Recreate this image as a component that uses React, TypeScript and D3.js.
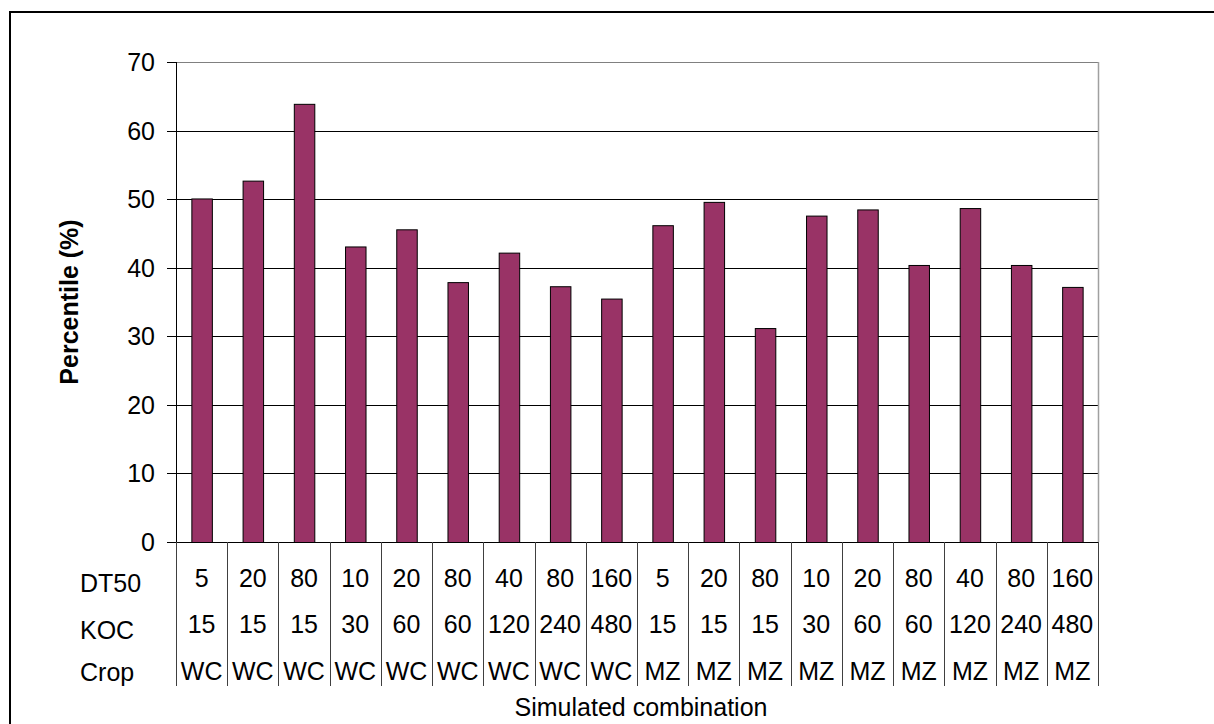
import React from "react";
import * as d3 from "d3";

const categories = ["1","2","3","4","5","6","7","8","9","10","11","12","13","14","15","16","17","18"];
const percentile = [50.1, 52.7, 63.9, 43.1, 45.6, 37.9, 42.2, 37.3, 35.5, 46.2, 49.6, 31.2, 47.6, 48.5, 40.4, 48.7, 40.4, 37.2];
const dt50 = ["5","20","80","10","20","80","40","80","160","5","20","80","10","20","80","40","80","160"];
const koc = ["15","15","15","30","60","60","120","240","480","15","15","15","30","60","60","120","240","480"];
const crop = ["WC","WC","WC","WC","WC","WC","WC","WC","WC","MZ","MZ","MZ","MZ","MZ","MZ","MZ","MZ","MZ"];
const yTicks = [0, 10, 20, 30, 40, 50, 60, 70];
const rowLabels = ["DT50", "KOC", "Crop"];
const yTitle = "Percentile (%)";
const xTitle = "Simulated combination";

const W = 1214, H = 724;
const left = 176, right = 1098, top = 62, bottom = 542;
const FONT = "Arial, 'Liberation Sans', sans-serif";
const FS = 25;

export default function App() {
  const x = d3.scaleBand<string>().domain(categories).range([left, right]).paddingInner(0.6).paddingOuter(0.3);
  const y = d3.scaleLinear().domain([0, 70]).range([bottom, top]);
  const step = x.step();
  const cellLeft = (i: number) => left + i * step;
  const rows = [dt50, koc, crop];
  const rowBase = [587, 633, 680];
  const labelBase = [592, 639, 681];

  return (
    <svg width={W} height={H} style={{ position: "absolute", left: 0, top: 0, background: "#fff" }} fontFamily={FONT}>
      <rect x={10} y={12} width={1230} height={740} fill="#fff" stroke="#000" strokeWidth={2} />
      {/* gridlines */}
      {yTicks.filter(t => t > 0).map(t => (
        <line key={"g" + t} x1={left} x2={right} y1={Math.round(y(t)) + 0.5} y2={Math.round(y(t)) + 0.5} stroke={t === 70 ? "#808080" : "#000"} strokeWidth={1} />
      ))}
      {/* plot right border */}
      <line x1={right + 0.5} x2={right + 0.5} y1={top} y2={bottom} stroke="#a0a0a0" strokeWidth={1.5} />
      {/* bars */}
      {categories.map((c, i) => (
        <rect key={"b" + c} x={x(c)! + 0.5} y={y(percentile[i]) + 0.5} width={x.bandwidth()} height={y(0) - y(percentile[i])} fill="#993366" stroke="#000" strokeWidth={1} />
      ))}
      {/* y axis */}
      <line x1={left + 0.5} x2={left + 0.5} y1={top} y2={bottom} stroke="#000" strokeWidth={1} />
      {yTicks.map(t => (
        <g key={"t" + t}>
          <line x1={167} x2={left} y1={Math.round(y(t)) + 0.5} y2={Math.round(y(t)) + 0.5} stroke="#000" strokeWidth={1} />
          <text x={155} y={y(t)} dy="0.36em" textAnchor="end" fontSize={FS} fill="#000">{t}</text>
        </g>
      ))}
      {/* zero line */}
      <line x1={167} x2={right} y1={Math.round(y(0)) + 0.5} y2={Math.round(y(0)) + 0.5} stroke="#000" strokeWidth={1} />
      {/* table vertical lines */}
      {d3.range(categories.length + 1).map(k => (
        <line key={"v" + k} x1={Math.round(cellLeft(k)) + 0.5} x2={Math.round(cellLeft(k)) + 0.5} y1={bottom} y2={686} stroke="#404040" strokeWidth={1} />
      ))}
      {/* table texts */}
      {rows.map((row, r) => (
        <g key={"r" + r}>
          <text x={80} y={labelBase[r]} fontSize={FS} fill="#000">{rowLabels[r]}</text>
          {row.map((v, i) => (
            <text key={i} x={x(categories[i])! + x.bandwidth() / 2} y={rowBase[r]} textAnchor="middle" fontSize={FS} fill="#000">{v}</text>
          ))}
        </g>
      ))}
      <text x={(left + right) / 2 + 4} y={716} textAnchor="middle" fontSize={FS} fill="#000">{xTitle}</text>
      <text transform={`translate(78, ${(top + bottom) / 2}) rotate(-90)`} textAnchor="middle" fontSize={FS} fontWeight="bold" fill="#000">{yTitle}</text>
    </svg>
  );
}
